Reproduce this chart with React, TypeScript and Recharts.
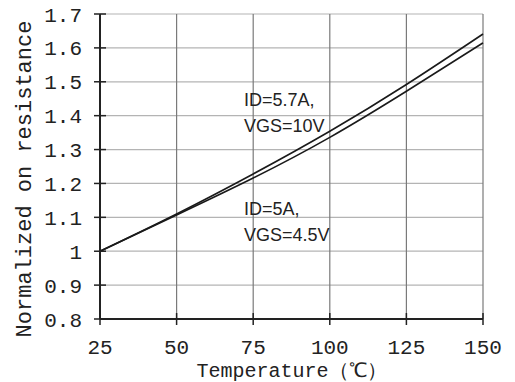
import {
  LineChart,
  Line,
  XAxis,
  YAxis,
  CartesianGrid,
  ReferenceDot,
} from "recharts";

const temperatures = [25, 50, 75, 100, 125, 150];
const vgs10V = [1.0, 1.11, 1.228, 1.354, 1.492, 1.641];
const vgs45V = [1.0, 1.107, 1.216, 1.336, 1.472, 1.615];

const xTicks = [25, 50, 75, 100, 125, 150];
const yTicks = [0.8, 0.9, 1.0, 1.1, 1.2, 1.3, 1.4, 1.5, 1.6, 1.7];

const notes = [
  { x: 72, y: 1.43, lines: ["ID=5.7A,", "VGS=10V"] },
  { x: 72, y: 1.107, lines: ["ID=5A,", "VGS=4.5V"] },
];

const data = temperatures.map((t, i) => ({
  t,
  vgs10: vgs10V[i],
  vgs45: vgs45V[i],
}));

const MONO = "'Liberation Mono', 'DejaVu Sans Mono', monospace";
const SANS = "'Liberation Sans', Arial, sans-serif";

const fmtY = (v: number) => (Math.abs(v - 1) < 1e-9 ? "1" : v.toFixed(1));

const YTick = (props: any) => {
  const { x, y, payload } = props;
  const axisX = x + 6 + 12;
  return (
    <g>
      <line x1={axisX - 6} x2={axisX + 6} y1={y} y2={y} stroke="#222" strokeWidth={1.5} />
      <text
        x={x}
        y={y}
        dy="0.36em"
        textAnchor="end"
        fontFamily={MONO}
        fontSize={21}
        fill="#222"
      >
        {fmtY(payload.value)}
      </text>
    </g>
  );
};

const XTick = (props: any) => {
  const { x, y, payload } = props;
  const axisY = y - 6 - 14;
  return (
    <g>
      <line x1={x} x2={x} y1={axisY - 6} y2={axisY + 6} stroke="#222" strokeWidth={1.5} />
      <text
        x={x}
        y={y + 15}
        textAnchor="middle"
        fontFamily={MONO}
        fontSize={21}
        fill="#222"
      >
        {payload.value}
      </text>
    </g>
  );
};

const NoteLabel = (lines: string[]) => (props: any) => {
  const { viewBox } = props;
  const x = viewBox.x + (viewBox.width || 0) / 2;
  const y = viewBox.y + (viewBox.height || 0) / 2;
  return (
    <text x={x} y={y} fontFamily={SANS} fontSize={18} fill="#222">
      {lines.map((l, i) => (
        <tspan key={l} x={x} dy={i === 0 ? 0 : 26}>
          {l}
        </tspan>
      ))}
    </text>
  );
};

const App = () => {
  return (
    <div
      style={{
        position: "absolute",
        left: 0,
        top: 0,
        width: 515,
        height: 382,
        background: "#fff",
      }}
    >
      <LineChart
        width={515}
        height={382}
        data={data}
        margin={{ top: 14, right: 32, bottom: 0, left: 0 }}
      >
        <CartesianGrid horizontal={true} vertical={false} stroke="#b4b4b4" strokeWidth={1.2} />
        <CartesianGrid horizontal={false} vertical={true} stroke="#7a7a7a" strokeWidth={1.2} />
        <XAxis
          dataKey="t"
          type="number"
          domain={[25, 150]}
          ticks={xTicks}
          height={63}
          tickSize={6}
          tickMargin={14}
          tickLine={false}
          axisLine={{ stroke: "#222", strokeWidth: 2 }}
          tick={<XTick />}
          label={{
            content: (p: any) => (
              <text
                x={p.viewBox.x + p.viewBox.width / 2}
                y={377}
                textAnchor="middle"
                fontFamily={MONO}
                fontSize={20}
                fill="#222"
              >
                Temperature（℃）
              </text>
            ),
          }}
        />
        <YAxis
          type="number"
          domain={[0.8, 1.7]}
          ticks={yTicks}
          width={100}
          tickSize={6}
          tickMargin={12}
          tickLine={false}
          axisLine={{ stroke: "#222", strokeWidth: 2 }}
          tick={<YTick />}
          label={{
            content: () => (
              <text
                transform="translate(25,179) rotate(-90)"
                textAnchor="middle"
                dominantBaseline="central"
                fontFamily={MONO}
                fontSize={22}
                fill="#222"
              >
                Normalized on resistance
              </text>
            ),
          }}
        />
        <Line
          type="natural"
          dataKey="vgs10"
          stroke="#1a1a1a"
          strokeWidth={1.6}
          dot={false}
          isAnimationActive={false}
        />
        <Line
          type="natural"
          dataKey="vgs45"
          stroke="#1a1a1a"
          strokeWidth={1.6}
          dot={false}
          isAnimationActive={false}
        />
        {notes.map((n) => (
          <ReferenceDot
            key={n.lines[0]}
            x={n.x}
            y={n.y}
            r={0}
            stroke="none"
            fill="none"
            label={{ content: NoteLabel(n.lines) }}
          />
        ))}
      </LineChart>
    </div>
  );
};

export default App;
